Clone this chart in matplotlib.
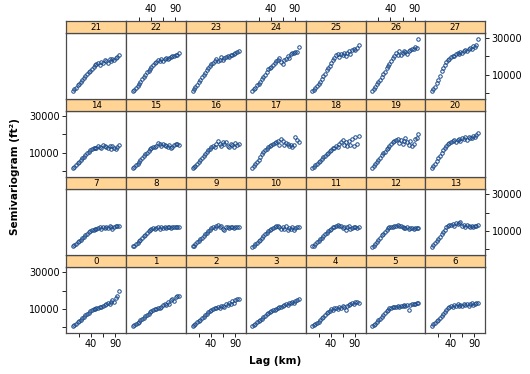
import numpy as np
import matplotlib
matplotlib.use("Agg")
import matplotlib.pyplot as plt

# lag distances (km) shared by every panel
lag = [2, 5, 8, 12, 15, 18, 22, 25, 28, 32, 35, 38, 41, 45, 48,
       51, 55, 58, 61, 65, 68, 71, 75, 78, 81, 84, 88, 91, 94, 98]

# semivariogram values per panel, in thousands of ft^2
p00 = [0.8, 1.2, 1.8, 2.6, 3.2, 3.8, 4.8, 5.6, 6.4, 7.2, 7.8, 8.6, 9.4, 9.8, 10.0,
       10.2, 10.4, 10.8, 11.2, 11.6, 12.0, 12.4, 13.2, 12.6, 14.0, 14.6, 13.8, 16.0, 17.0, 19.6]
p01 = [0.8, 1.0, 1.6, 2.4, 3.0, 3.6, 4.4, 5.2, 6.0, 6.8, 7.4, 8.2, 9.0, 9.6, 9.8,
       10.0, 10.2, 10.6, 11.2, 12.0, 12.8, 12.2, 13.6, 12.4, 14.8, 15.6, 14.2, 16.4, 16.8, 17.0]
p02 = [0.8, 1.2, 1.8, 2.6, 3.2, 3.8, 4.8, 5.6, 6.4, 7.4, 8.2, 9.0, 9.6, 10.0, 10.2,
       10.6, 11.0, 10.4, 11.4, 11.8, 11.2, 12.4, 12.0, 13.4, 12.6, 14.2, 13.0, 14.8, 15.6, 15.4]
p03 = [0.8, 1.2, 1.8, 2.6, 3.2, 3.8, 4.6, 5.4, 6.2, 7.2, 7.8, 8.4, 9.0, 9.4, 9.6,
       10.0, 10.4, 10.8, 11.2, 11.6, 12.2, 12.6, 12.2, 13.0, 13.4, 13.8, 13.2, 14.4, 15.0, 15.2]
p04 = [0.8, 1.2, 1.8, 2.4, 3.0, 3.8, 4.8, 5.6, 6.6, 7.6, 8.4, 9.0, 9.8, 9.6, 10.2,
       10.6, 10.0, 11.0, 10.6, 11.4, 11.0, 9.6, 11.8, 12.2, 12.6, 13.0, 12.4, 13.6, 13.8, 13.4]
p05 = [0.6, 1.0, 1.8, 2.8, 3.6, 4.4, 5.6, 6.6, 7.6, 8.8, 9.6, 10.2, 10.6, 10.8, 11.2,
       11.0, 11.4, 11.2, 11.8, 11.6, 12.0, 11.4, 12.2, 9.6, 12.0, 12.4, 12.8, 12.6, 13.0, 13.4]
p06 = [0.8, 1.4, 2.2, 3.2, 4.0, 4.8, 6.0, 7.0, 8.0, 9.4, 10.4, 11.0, 11.6, 11.2, 12.0,
       11.6, 12.4, 11.4, 12.2, 11.8, 12.6, 12.0, 12.8, 11.6, 12.4, 13.0, 12.2, 12.8, 13.2, 13.2]
p07 = [1.5, 2.0, 2.8, 3.6, 4.2, 4.8, 5.8, 6.6, 7.4, 8.4, 9.2, 9.8, 10.4, 10.6, 11.0,
       11.2, 11.4, 11.8, 11.2, 12.0, 11.6, 12.2, 11.4, 12.4, 11.8, 10.8, 12.2, 12.6, 12.4, 12.8]
p08 = [1.4, 1.8, 2.6, 3.4, 4.2, 5.0, 6.0, 7.0, 7.8, 8.8, 9.6, 10.4, 11.0, 11.4, 11.0,
       11.6, 11.8, 11.2, 12.2, 11.6, 12.0, 11.4, 12.2, 11.8, 11.6, 12.2, 12.0, 11.8, 12.2, 12.0]
p09 = [1.4, 1.8, 2.6, 3.6, 4.4, 5.2, 6.2, 7.0, 8.0, 9.0, 9.8, 10.6, 11.4, 12.2, 11.6,
       12.6, 13.0, 11.8, 12.4, 11.2, 10.6, 11.8, 12.0, 11.4, 11.8, 12.0, 11.6, 11.8, 12.0, 11.8]
p10 = [1.2, 1.8, 2.6, 3.4, 4.2, 5.0, 6.0, 7.0, 8.0, 9.0, 9.8, 10.4, 11.0, 11.4, 11.8,
       12.4, 12.8, 11.8, 11.0, 12.2, 10.8, 12.4, 10.4, 11.6, 11.2, 12.0, 10.2, 11.4, 12.2, 11.8]
p11 = [1.4, 1.8, 2.6, 3.6, 4.4, 5.2, 6.2, 7.2, 8.0, 9.0, 9.8, 10.6, 11.2, 11.8, 12.2,
       12.6, 13.2, 12.8, 12.4, 11.6, 12.2, 10.6, 11.8, 12.4, 10.8, 11.6, 12.2, 11.8, 11.4, 11.8]
p12 = [1.2, 1.8, 2.8, 4.0, 5.0, 6.0, 7.4, 8.4, 9.4, 10.6, 11.4, 11.8, 12.0, 12.2, 12.4,
       12.6, 13.0, 12.8, 12.4, 12.0, 11.6, 11.4, 11.8, 11.2, 11.4, 11.6, 11.2, 11.4, 11.6, 11.6]
p13 = [1.2, 2.0, 3.0, 4.4, 5.6, 6.8, 8.2, 9.4, 10.6, 12.0, 12.8, 13.4, 13.2, 13.8, 12.8,
       14.2, 13.6, 14.0, 14.6, 12.6, 13.2, 12.2, 13.0, 12.4, 11.8, 12.6, 12.2, 12.8, 12.6, 13.2]
p14 = [1.5, 2.2, 3.0, 4.2, 5.0, 5.8, 7.0, 7.8, 8.6, 9.6, 10.4, 11.2, 12.0, 12.4, 12.6,
       12.8, 13.6, 13.2, 12.8, 14.2, 13.6, 13.0, 12.6, 13.4, 12.2, 13.8, 12.8, 11.8, 13.2, 14.0]
p15 = [1.5, 2.2, 3.0, 4.0, 5.0, 5.8, 7.2, 8.0, 9.0, 10.0, 11.0, 11.8, 12.6, 13.2, 13.0,
       13.6, 15.4, 14.6, 13.8, 15.0, 14.0, 13.4, 13.0, 14.4, 12.8, 13.2, 14.0, 14.6, 14.8, 14.2]
p16 = [1.5, 2.0, 2.8, 3.8, 4.8, 5.8, 7.2, 8.2, 9.2, 10.4, 11.4, 12.2, 13.0, 13.4, 13.0,
       14.6, 16.2, 15.0, 13.8, 16.0, 14.6, 15.6, 13.8, 13.2, 14.8, 14.0, 13.2, 15.4, 14.2, 14.6]
p17 = [1.4, 2.4, 3.6, 5.0, 6.2, 7.4, 9.0, 10.2, 11.2, 12.2, 13.0, 13.6, 14.2, 14.8, 15.4,
       15.8, 16.6, 14.2, 17.6, 16.2, 14.0, 15.2, 14.6, 13.6, 14.4, 13.0, 14.2, 18.5, 17.0, 15.8]
p18 = [1.4, 2.2, 3.0, 4.0, 4.8, 5.4, 6.6, 7.4, 8.2, 9.2, 10.0, 10.8, 11.6, 12.4, 12.8,
       13.4, 13.0, 14.6, 15.6, 16.8, 14.2, 15.8, 13.4, 16.2, 14.0, 17.6, 13.8, 18.6, 15.0, 19.4]
p19 = [1.4, 2.4, 3.6, 5.0, 6.2, 7.2, 8.6, 9.6, 10.6, 11.8, 12.8, 13.8, 14.6, 15.6, 16.2,
       16.8, 17.4, 15.2, 17.0, 14.6, 16.6, 17.8, 15.8, 14.2, 16.4, 13.4, 15.0, 17.6, 18.2, 20.2]
p20 = [1.4, 2.4, 3.8, 5.6, 7.0, 8.4, 10.0, 11.2, 12.4, 13.8, 14.8, 15.2, 15.6, 16.2, 16.8,
       15.6, 17.0, 17.4, 16.6, 18.0, 17.6, 18.4, 17.0, 18.6, 17.8, 18.2, 19.2, 18.8, 19.6, 20.6]
p21 = [1.0, 1.8, 2.8, 4.0, 5.0, 6.0, 7.2, 8.2, 9.0, 10.3, 11.2, 12.2, 13.0, 14.0, 15.0,
       15.6, 16.2, 15.4, 17.0, 16.5, 18.0, 17.2, 16.6, 18.4, 17.5, 18.8, 17.8, 19.2, 19.8, 20.6]
p22 = [1.0, 1.5, 2.6, 3.8, 5.0, 6.0, 7.5, 8.6, 9.8, 11.2, 12.2, 13.2, 14.2, 15.5, 16.5,
       17.0, 18.2, 17.2, 18.6, 17.6, 18.5, 19.0, 18.4, 19.2, 19.6, 20.0, 20.4, 21.0, 21.0, 22.0]
p23 = [1.0, 1.8, 3.0, 4.5, 5.8, 7.0, 8.5, 9.6, 10.8, 12.4, 13.5, 14.5, 15.6, 16.6, 17.2,
       18.6, 17.4, 18.0, 19.4, 18.2, 19.0, 19.8, 20.2, 19.6, 20.8, 21.0, 21.4, 22.0, 22.2, 23.0]
p24 = [1.0, 1.8, 2.8, 4.2, 5.0, 6.0, 7.6, 8.6, 9.8, 11.6, 12.8, 13.8, 14.4, 15.2, 16.4,
       17.2, 18.2, 19.2, 17.0, 16.0, 18.2, 18.8, 20.2, 19.0, 21.4, 22.0, 21.6, 22.4, 22.2, 25.4]
p25 = [1.0, 1.6, 2.6, 3.8, 4.8, 6.0, 7.8, 9.0, 10.4, 12.4, 13.6, 14.8, 16.2, 17.8, 19.0,
       20.6, 21.4, 19.8, 21.2, 20.6, 22.0, 20.4, 21.6, 22.8, 21.4, 23.6, 24.0, 23.4, 24.8, 26.0]
p26 = [1.0, 1.8, 3.0, 4.6, 5.8, 7.0, 8.8, 10.2, 11.6, 13.4, 14.8, 16.0, 17.2, 19.0, 20.4,
       22.0, 21.0, 22.8, 20.6, 21.6, 23.2, 22.4, 21.4, 22.8, 23.6, 24.2, 23.8, 25.0, 24.8, 29.8]
p27 = [1.0, 2.0, 3.4, 5.4, 7.2, 9.0, 11.8, 13.8, 15.4, 17.0, 17.8, 18.8, 19.6, 20.4, 20.2,
       21.2, 22.0, 21.4, 22.6, 22.0, 23.2, 23.6, 22.8, 24.0, 24.6, 24.2, 25.6, 25.2, 26.4, 29.4]

panels = [p00, p01, p02, p03, p04, p05, p06, p07, p08, p09, p10, p11, p12, p13,
          p14, p15, p16, p17, p18, p19, p20, p21, p22, p23, p24, p25, p26, p27]

x_ticks = [15, 40, 65, 90]
x_labels = ['', '40', '', '90']
y_ticks = [0, 10000, 20000, 30000]
y_labels = ['', '10000', '', '30000']

W, H = 530, 374
fig = plt.figure(figsize=(W / 100, H / 100), dpi=100)

# grid geometry in pixels
left, right = 66.3, 485.3
bottom = 333.0
col_w = (right - left) / 7
row_h = 78.1
strip_h = 12.5
panel_h = row_h - strip_h

edge = '#4a4a4a'
strip_col = '#FFD494'
pt_col = '#1a4a8a'

for idx, vals in enumerate(panels):
    r, c = divmod(idx, 7)
    x0 = left + c * col_w
    pb = bottom - r * row_h          # panel bottom (px from top)
    pt = pb - panel_h                 # panel top
    ax = fig.add_axes([x0 / W, 1 - pb / H, col_w / W, panel_h / H])
    sax = fig.add_axes([x0 / W, 1 - pt / H, col_w / W, strip_h / H])

    ax.plot(lag, np.array(vals) * 1000, 'o', ms=2.5, mfc='none', mec=pt_col, mew=0.7)
    ax.set_xlim(-11.5, 112.5)
    ax.set_ylim(-3300, 32800)

    for a in (ax, sax):
        for s in a.spines.values():
            s.set_color(edge)
            s.set_linewidth(0.9)
    sax.set_facecolor(strip_col)
    sax.set_xlim(-11.5, 112.5)
    sax.set_ylim(0, 1)
    sax.text(0.5, 0.45, str(idx), ha='center', va='center', fontsize=6.3,
             transform=sax.transAxes)
    sax.set_yticks([])

    tick_kw = dict(direction='out', length=3, width=0.6, labelsize=7, pad=1.5)
    ax.tick_params(**tick_kw)
    sax.tick_params(**tick_kw)

    # x axis: bottom labels on even columns of bottom row, top on odd columns of top row
    ax.set_xticks(x_ticks)
    ax.set_xticklabels(x_labels)
    sax.set_xticks([])
    if r == 0 and c % 2 == 0:
        ax.tick_params(axis='x', bottom=True, labelbottom=True)
    else:
        ax.tick_params(axis='x', bottom=False, labelbottom=False)
    if r == 3 and c % 2 == 1:
        sax.set_xticks(x_ticks)
        sax.set_xticklabels(x_labels)
        sax.tick_params(axis='x', top=True, labeltop=True, bottom=False, labelbottom=False)

    # y axis: left labels on rows 0 and 2, right labels on rows 1 and 3
    ax.set_yticks(y_ticks)
    ax.set_yticklabels(y_labels)
    if c == 0 and r % 2 == 0:
        ax.tick_params(axis='y', left=True, labelleft=True)
    elif c == 6 and r % 2 == 1:
        ax.tick_params(axis='y', left=False, labelleft=False, right=True, labelright=True)
    else:
        ax.tick_params(axis='y', left=False, labelleft=False)

fig.text(15 / W, 1 - 177 / H, 'Semivariogram (ft²)', rotation=90, ha='center',
         va='center', fontsize=7.5, fontweight='bold')
fig.text(275 / W, 1 - 361 / H, 'Lag (km)', ha='center', va='center',
         fontsize=7.5, fontweight='bold')

fig.savefig('out.png', dpi=100)
